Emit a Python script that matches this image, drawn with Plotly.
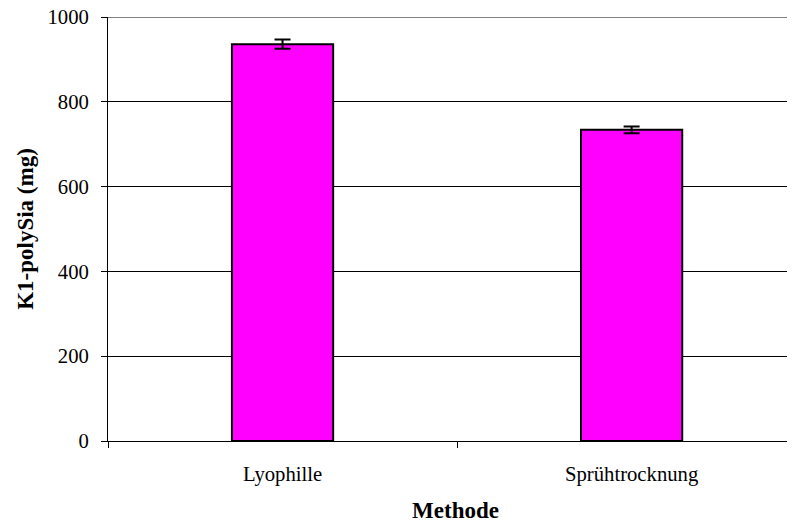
import plotly.graph_objects as go

methods = ['Lyophille', 'Sprühtrocknung']
amounts = [936, 734]
errors = [11, 8]
y_ticks = [0, 200, 400, 600, 800, 1000]

font_family = 'Liberation Serif'

fig = go.Figure()
fig.add_trace(go.Bar(
    x=methods,
    y=amounts,
    width=0.29,
    marker=dict(color='#ff00ff', line=dict(color='black', width=2)),
    error_y=dict(type='data', array=errors, color='black', thickness=2, width=8),
))

# the page body adds an 8px offset, margins are set to compensate
fig.update_layout(
    width=795, height=524,
    margin=dict(l=100, r=0, t=9, b=91),
    paper_bgcolor='white', plot_bgcolor='white',
    font=dict(family=font_family, size=20.7, color='black'),
    showlegend=False,
    xaxis=dict(
        range=[-0.5, 1.491], automargin=False,
        tickson='boundaries', ticks='outside', ticklen=6, tickcolor='black',
        showline=True, linecolor='black', linewidth=1,
        ticklabelstandoff=14,
        title=dict(text='<b>Methode</b>', standoff=17, font=dict(size=23)),
    ),
    yaxis=dict(
        range=[0, 1000], tickvals=y_ticks, automargin=False,
        ticks='outside', ticklen=6, tickcolor='black',
        showline=True, linecolor='black', linewidth=1,
        showgrid=True, gridcolor='black', gridwidth=1,
        zeroline=False,
        ticklabelstandoff=8, ticklabeloverflow='allow',
        title=dict(text='<b>K1-polySia (mg)</b>', standoff=7, font=dict(size=23)),
    ),
)

fig.add_shape(type='line', xref='paper', yref='y', x0=0, x1=1, y0=1000, y1=1000,
              line=dict(color='#808080', width=2))

fig.write_html('out.html')
